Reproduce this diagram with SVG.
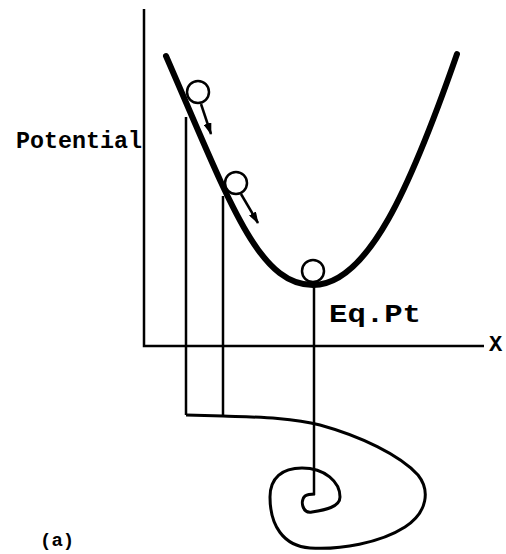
<svg xmlns="http://www.w3.org/2000/svg" width="506" height="554" viewBox="0 0 506 554">
<style>
.ax{stroke:#000;stroke-width:2.5;fill:none}
.cv{stroke:#000;stroke-width:6;fill:none;stroke-linecap:round}
.ln{stroke:#000;stroke-width:2.5;fill:none}
.sp{stroke:#000;stroke-width:3;fill:none;stroke-linejoin:round}
.ball{stroke:#000;stroke-width:2.5;fill:#fff}
.t{font-family:"Liberation Mono","DejaVu Sans Mono",monospace;fill:#000}
</style>
<defs>
<marker id="ah" viewBox="0 0 12 8" refX="11" refY="4" markerWidth="12" markerHeight="8" markerUnits="userSpaceOnUse" orient="auto">
<path d="M0,0 L12,4 L0,8 Z" fill="#000"/>
</marker>
</defs>
<g id="axes">
<path class="ax" d="M144,9 L144,346 L484,346"/>
</g>
<g id="potential-curve">
<path class="cv" d="M166,56 C230,203 258,285 313,285 C368,285 411,186 457,54"/>
</g>
<g id="connectors">
<path class="ln" d="M186,117 L186,415"/>
<path class="ln" d="M223,196 L223,416"/>
<path class="ln" d="M314,284 L314,495"/>
<path class="sp" d="M186,415 L223,416 C250,417 290,417 320,425 C360,436 400,455 418,475 C430,490 428,512 405,527 C380,543 340,550 310,548 C283,546 270,525 270,497 C270,478 282,468 302,468 C325,468 340,482 340,497 C340,507 325,510 312,512 C302,514 300,500 305,496 C308,494 311,494 315,494"/>
<path class="ln" d="M201,104 L211,134" marker-end="url(#ah)"/>
<path class="ln" d="M241,194 L258,223" marker-end="url(#ah)"/>
</g>
<g id="ball1"><circle class="ball" cx="198" cy="92" r="11"/></g>
<g id="ball2"><circle class="ball" cx="236" cy="183" r="11"/></g>
<g id="ball3"><circle class="ball" cx="313" cy="271" r="11"/></g>
<g id="labels">
<text class="t" x="16" y="148" font-size="23" font-weight="bold" textLength="126" lengthAdjust="spacingAndGlyphs">Potential</text>
<text class="t" x="329" y="322" font-size="26" font-weight="bold" textLength="92" lengthAdjust="spacingAndGlyphs">Eq.Pt</text>
<text class="t" x="489" y="351" font-size="22" font-weight="bold">X</text>
<text class="t" x="40" y="546" font-size="19" font-weight="bold">(a)</text>
</g>
</svg>
